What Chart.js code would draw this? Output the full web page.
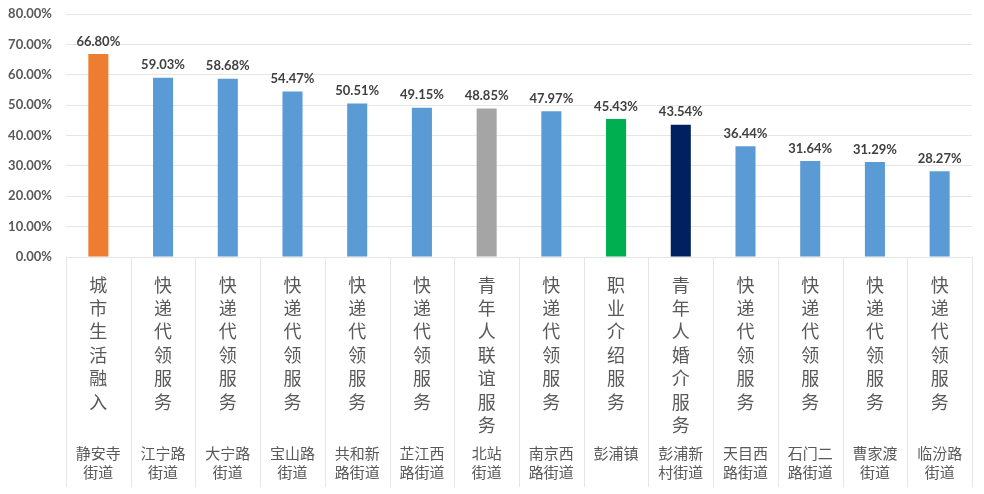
<!DOCTYPE html>
<html>
<head>
<meta charset="utf-8">
<script src="https://cdn.jsdelivr.net/npm/chart.js@4.4.1/dist/chart.umd.min.js"></script>
<style>
  html, body { margin: 0; padding: 0; background: #fff; }
  #wrap { width: 984px; height: 494px; }
</style>
</head>
<body>
<div id="wrap"><canvas id="chart"></canvas></div>
<script>
// service type per bar (written vertically, one character per line)
const services = ['城市生活融入', '快递代领服务', '快递代领服务', '快递代领服务', '快递代领服务',
  '快递代领服务', '青年人联谊服务', '快递代领服务', '职业介绍服务', '青年人婚介服务',
  '快递代领服务', '快递代领服务', '快递代领服务', '快递代领服务'];

// street / town, split in the two lines shown under each column
const districts = [['静安寺', '街道'], ['江宁路', '街道'], ['大宁路', '街道'], ['宝山路', '街道'],
  ['共和新', '路街道'], ['芷江西', '路街道'], ['北站', '街道'], ['南京西', '路街道'], ['彭浦镇'],
  ['彭浦新', '村街道'], ['天目西', '路街道'], ['石门二', '路街道'], ['曹家渡', '街道'], ['临汾路', '街道']];

const rates = [66.80, 59.03, 58.68, 54.47, 50.51, 49.15, 48.85, 47.97, 45.43, 43.54, 36.44, 31.64, 31.29, 28.27];

const barColors = ['#ED7D31', '#5B9BD5', '#5B9BD5', '#5B9BD5', '#5B9BD5', '#5B9BD5', '#A5A5A5',
  '#5B9BD5', '#00B050', '#002060', '#5B9BD5', '#5B9BD5', '#5B9BD5', '#5B9BD5'];

const yTicks = [0, 10, 20, 30, 40, 50, 60, 70, 80];

const gridColor = '#e6e6e6';
const textColor = '#595959';

// value labels above the bars
const valueLabels = {
  id: 'valueLabels',
  afterDatasetsDraw(chart) {
    const ctx = chart.ctx;
    const meta = chart.getDatasetMeta(0);
    ctx.save();
    ctx.font = 'bold 13px Lato, "Open Sans", sans-serif';
    ctx.fillStyle = '#404040';
    ctx.textAlign = 'center';
    ctx.textBaseline = 'bottom';
    meta.data.forEach((bar, i) => {
      ctx.fillText(rates[i].toFixed(2) + '%', bar.x, bar.y - 6);
    });
    ctx.restore();
  }
};

// vertical separators between the columns of the category table
const separators = {
  id: 'separators',
  afterDraw(chart) {
    const ctx = chart.ctx;
    const x = chart.scales.x;
    const x2 = chart.scales.x2;
    ctx.save();
    ctx.strokeStyle = gridColor;
    ctx.lineWidth = 1;
    for (let i = 0; i <= services.length; i++) {
      let px;
      if (i === 0) px = x.left;
      else if (i === services.length) px = x.right;
      else px = (x.getPixelForValue(i - 1) + x.getPixelForValue(i)) / 2;
      px = Math.round(px) + 0.5;
      ctx.beginPath();
      ctx.moveTo(px, x.top);
      ctx.lineTo(px, x2.bottom);
      ctx.stroke();
    }
    ctx.restore();
  }
};

new Chart(document.getElementById('chart'), {
  type: 'bar',
  data: {
    labels: services.map(s => s.split('')),
    datasets: [{
      data: rates,
      backgroundColor: barColors,
      categoryPercentage: 1,
      barPercentage: 0.31
    }]
  },
  options: {
    responsive: true,
    maintainAspectRatio: false,
    animation: false,
    layout: { padding: { top: 14, right: 12, bottom: 7, left: 0 } },
    plugins: {
      legend: { display: false },
      tooltip: { enabled: false }
    },
    scales: {
      y: {
        min: 0,
        max: 80,
        afterBuildTicks: axis => { axis.ticks = yTicks.map(v => ({ value: v })); },
        afterFit: axis => {
          axis.width = 66;
          axis.paddingTop = 0;
          axis.paddingBottom = 0;
        },
        border: { display: false },
        grid: { color: gridColor, drawTicks: false },
        ticks: {
          padding: 14,
          color: textColor,
          font: { family: 'Lato, "Open Sans", sans-serif', size: 13, weight: 'bold' },
          callback: v => v.toFixed(2) + '%'
        }
      },
      x: {
        offset: true,
        afterFit: axis => { axis.height = 183; },
        border: { display: false },
        grid: { display: false, drawTicks: false },
        ticks: {
          autoSkip: false,
          maxRotation: 0,
          padding: 16,
          color: textColor,
          font: { family: '"Noto Sans CJK SC", sans-serif', size: 18, lineHeight: 1.3 }
        }
      },
      x2: {
        type: 'category',
        position: 'bottom',
        labels: districts,
        offset: true,
        afterFit: axis => { axis.height = 47; },
        border: { display: false },
        grid: { display: false, drawTicks: false },
        ticks: {
          autoSkip: false,
          maxRotation: 0,
          padding: 4,
          color: textColor,
          font: { family: '"Noto Sans CJK SC", sans-serif', size: 15, lineHeight: 1.27 }
        }
      }
    }
  },
  plugins: [valueLabels, separators]
});
</script>
</body>
</html>
